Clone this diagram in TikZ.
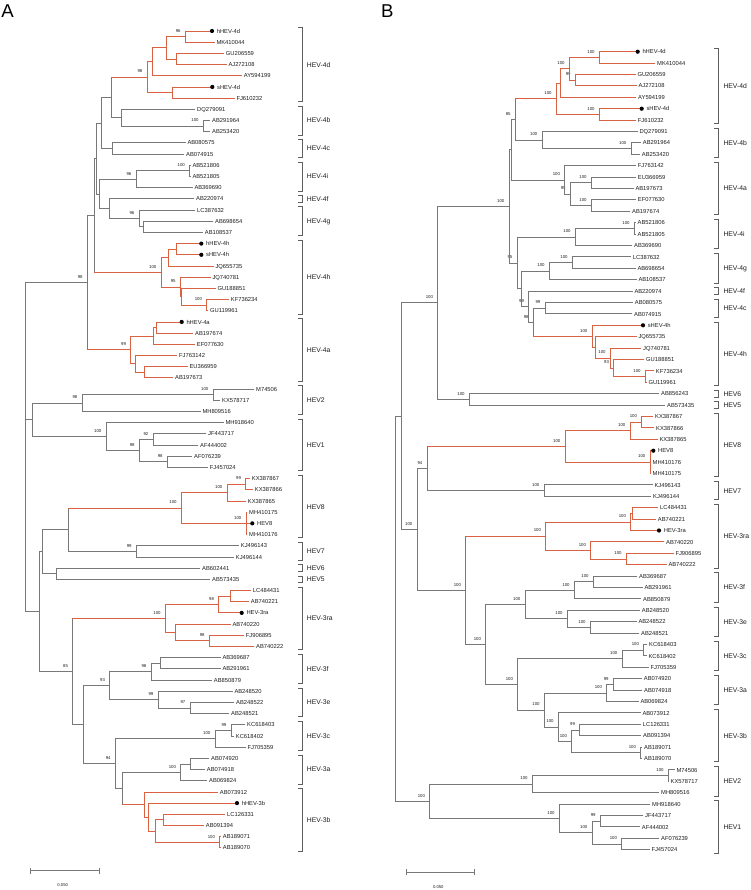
\documentclass[tikz,border=0pt]{standalone}
\usepackage{fontspec}
\setmainfont{Liberation Sans}
\definecolor{lgray}{RGB}{120,120,120}
\definecolor{lred}{RGB}{217,98,66}
\definecolor{bgray}{RGB}{95,95,95}
\definecolor{txt}{RGB}{30,30,30}
\newcommand\yA[1]{(31+(#1-1)*11.19)}
\newcommand\yB[1]{(51.7+(#1-1)*11.4)}
\newcommand\leafA[3]{\coordinate (al#1) at (#2,{\yA{#1}}); \node[leaf] (al#1t) at (al#1) {#3};}
\newcommand\dleafA[3]{\coordinate (al#1) at (#2,{\yA{#1}}); \node[dleaf] (al#1t) at (al#1) {#3};}
\newcommand\leafB[3]{\coordinate (bl#1) at (#2,{\yB{#1}}); \node[leaf] (bl#1t) at (bl#1) {#3};}
\newcommand\dleafB[3]{\coordinate (bl#1) at (#2,{\yB{#1}}); \node[dleaf] (bl#1t) at (bl#1) {#3};}
\newcommand\nA[3]{\coordinate (#1) at (#2,{\yA{#3}});}
\newcommand\nB[3]{\coordinate (#1) at (#2,{\yB{#3}});}
\newcommand\bsv[2]{\node[bsl] (#1b) at (#1) {#2};}
\newcommand\brn[4]{\draw[#3] (#1) -- (#1 |- #2); \draw[#4] (#1 |- #2) -- (#2);}
\newcommand\eG[2]{\brn{#1}{#2}{gl}{gl}}
\newcommand\eR[2]{\brn{#1}{#2}{rl}{rl}}
\newcommand\eX[2]{\brn{#1}{#2}{gl}{rl}}
\newcommand\dotat[1]{\fill[black] (#1) circle[radius=2.1];}
\newcommand\cladeA[4]{%
\coordinate (#1u) at (302.3,{\yA{#2}-3.3});
\coordinate (#1d) at (302.3,{\yA{#3}+3.3});
\draw[brk] ([xshift=-4.6pt]#1u) -- (#1u) -- (#1d) -- ([xshift=-4.6pt]#1d);
\node[clab] (#1l) at (306.7,{0.5*\yA{#2}+0.5*\yA{#3}}) {#4};}
\newcommand\cladeB[4]{%
\coordinate (#1u) at (718.3,{\yB{#2}-3.3});
\coordinate (#1d) at (718.3,{\yB{#3}+3.3});
\draw[brk] ([xshift=-4.6pt]#1u) -- (#1u) -- (#1d) -- ([xshift=-4.6pt]#1d);
\node[clab] (#1l) at (723.3,{0.5*\yB{#2}+0.5*\yB{#3}}) {#4};}
\tikzset{
 gl/.style={draw=lgray, line width=0.85pt, line cap=rect},
 rl/.style={draw=lred, line width=0.85pt, line cap=rect},
 leaf/.style={anchor=west, inner sep=0pt, xshift=2pt, font=\fontsize{5.8}{6}\selectfont, text=txt, text height=4.2pt, text depth=0pt},
 dleaf/.style={leaf, xshift=2.6pt},
 bsl/.style={anchor=south east, inner sep=0pt, xshift=-4.5pt, yshift=4pt, font=\fontsize{4.3}{5}\selectfont, text=txt},
 brk/.style={draw=bgray, line width=0.8pt},
 clab/.style={anchor=west, inner sep=0pt, font=\fontsize{6.8}{8}\selectfont, text=txt, text height=4.9pt, text depth=0pt},
 plab/.style={anchor=base west, inner sep=0pt, font=\fontsize{18.6}{20}\selectfont, text=black},
 sclab/.style={inner sep=0pt, font=\fontsize{4.2}{5}\selectfont, text=txt}
}
\begin{document}
\begin{tikzpicture}[x=1pt,y=-1pt]
\useasboundingbox (0,0) rectangle (750,890);
\fill[white] (0,0) rectangle (750,890);
% ================= PANEL A =================
\node[plab] (pA) at (1.2,17.3) {A};
\dleafA{1}{212}{hHEV-4d}
\leafA{2}{214.3}{MK410044}
\leafA{3}{223.7}{GU206559}
\leafA{4}{226.3}{AJ272108}
\leafA{5}{241.7}{AY594199}
\dleafA{6}{212.3}{sHEV-4d}
\leafA{7}{234.3}{FJ610232}
\leafA{8}{195}{DQ279091}
\leafA{9}{210}{AB291964}
\leafA{10}{210}{AB253420}
\leafA{11}{185.3}{AB080575}
\leafA{12}{184}{AB074915}
\leafA{13}{190.3}{AB521806}
\leafA{14}{190.3}{AB521805}
\leafA{15}{192.3}{AB369690}
\leafA{16}{194}{AB220974}
\leafA{17}{195}{LC387632}
\leafA{18}{213}{AB698654}
\leafA{19}{202.7}{AB108537}
\dleafA{20}{201.3}{hHEV-4h}
\dleafA{21}{201.3}{sHEV-4h}
\leafA{22}{213.3}{JQ655735}
\leafA{23}{210.3}{JQ740781}
\leafA{24}{215.3}{GU188851}
\leafA{25}{228.7}{KF736234}
\leafA{26}{208}{GU119961}
\dleafA{27}{181.7}{hHEV-4a}
\leafA{28}{193}{AB197674}
\leafA{29}{194.7}{EF077630}
\leafA{30}{177}{FJ763142}
\leafA{31}{187.3}{EU366959}
\leafA{32}{173}{AB197673}
\leafA{33}{254}{M74506}
\leafA{34}{220}{KX578717}
\leafA{35}{200.3}{MH809516}
\leafA{36}{223.3}{MH918640}
\leafA{37}{206}{JF443717}
\leafA{38}{198}{AF444002}
\leafA{39}{192}{AF076239}
\leafA{40}{207.7}{FJ457024}
\leafA{41}{249.7}{KX387867}
\leafA{42}{252.7}{KX387866}
\leafA{43}{245.7}{KX387865}
\leafA{44}{247}{MH410175}
\dleafA{45}{252.3}{HEV8}
\leafA{46}{247}{MH410176}
\leafA{47}{238.7}{KJ496143}
\leafA{48}{233.7}{KJ496144}
\leafA{49}{200}{AB602441}
\leafA{50}{210}{AB573435}
\leafA{51}{250.7}{LC484431}
\leafA{52}{248.7}{AB740221}
\dleafA{53}{241.7}{HEV-3ra}
\leafA{54}{230.3}{AB740220}
\leafA{55}{243.7}{FJ906895}
\leafA{56}{254}{AB740222}
\leafA{57}{220.3}{AB369687}
\leafA{58}{220.3}{AB291961}
\leafA{59}{211.7}{AB850879}
\leafA{60}{232.3}{AB248520}
\leafA{61}{234}{AB248522}
\leafA{62}{229}{AB248521}
\leafA{63}{245}{KC618403}
\leafA{64}{233.7}{KC618402}
\leafA{65}{245.3}{FJ705359}
\leafA{66}{209}{AB074920}
\leafA{67}{204.7}{AB074918}
\leafA{68}{207}{AB069824}
\leafA{69}{217.7}{AB073912}
\dleafA{70}{237}{hHEV-3b}
\leafA{71}{225}{LC126331}
\leafA{72}{203.7}{AB091394}
\leafA{73}{220.7}{AB189071}
\leafA{74}{220.7}{AB189070}
% internal nodes A
\nA{a1}{185.3}{1.5}\bsv{a1}{96}
\nA{a2}{176.7}{3.5}
\nA{a3}{166}{2.5}
\nA{a4}{152.7}{3.75}
\nA{a5}{172.3}{6.5}
\nA{a6}{147}{5.125}\bsv{a6}{98}
\nA{b1}{203.3}{9.5}\bsv{b1}{100}
\nA{b2}{121.3}{8.75}
\nA{a7}{111}{6.9375}
\nA{c1}{112.7}{11.5}
\nA{a8}{101.5}{9.21875}
\nA{i1}{189.5}{13.5}\bsv{i1}{100}
\nA{i2}{136}{14.25}\bsv{i2}{96}
\nA{g1}{143.3}{18.5}
\nA{g2}{139}{17.75}\bsv{g2}{96}
\nA{g3}{109.3}{16.875}
\nA{ig}{99.3}{15.5625}
\nA{a9}{96.7}{12.390625}
\nA{h1}{176.7}{20.5}
\nA{h2}{168}{21.25}
\nA{h3}{206.7}{25.5}\bsv{h3}{100}
\nA{hx}{181.3}{24.75}
\nA{h4}{180.3}{23.875}\bsv{h4}{95}
\nA{h5}{161}{22.5625}\bsv{h5}{100}
\nA{a10}{94.3}{17.4765625}
\nA{q1}{156.7}{27.5}
\nA{q2}{153.3}{28.25}
\nA{q3}{144.3}{31.5}
\nA{q4}{135.3}{30.75}
\nA{q5}{130.7}{29.5}\bsv{q5}{99}
\nA{a11}{87.3}{23.48828125}\bsv{a11}{98}
\nA{e1}{213}{33.5}\bsv{e1}{100}
\nA{e2}{82}{34.25}\bsv{e2}{98}
\nA{f1}{153}{37.5}\bsv{f1}{92}
\nA{f2}{167.3}{39.5}\bsv{f2}{98}
\nA{f3}{139.3}{38.5}\bsv{f3}{98}
\nA{f4}{106}{37.25}\bsv{f4}{100}
\nA{ef}{32.3}{35.75}
\nA{k1}{245.7}{41.5}\bsv{k1}{99}
\nA{k2}{227}{42.25}\bsv{k2}{100}
\nA{k3}{246}{45}\bsv{k3}{100}
\nA{k4}{181.3}{43.625}\bsv{k4}{100}
\nA{k5}{136.3}{47.5}\bsv{k5}{99}
\nA{k6}{68.3}{45.5625}
\nA{k7}{56}{49.5}
\nA{k8}{42.3}{47.53125}
\nA{r1}{230}{51.5}
\nA{r2}{218.7}{52.25}\bsv{r2}{98}
\nA{r3}{209.3}{55.5}\bsv{r3}{98}
\nA{r4}{175.3}{54.75}
\nA{r5}{165.3}{53.5}\bsv{r5}{100}
\nA{s1}{160.7}{57.5}
\nA{s2}{151}{58.25}\bsv{s2}{98}
\nA{t1}{190}{61.5}\bsv{t1}{97}
\nA{t2}{158}{60.75}\bsv{t2}{99}
\nA{st}{109.7}{59.5}\bsv{st}{93}
\nA{u1}{231}{63.5}\bsv{u1}{99}
\nA{u2}{215}{64.25}\bsv{u2}{100}
\nA{v1}{190}{66.5}
\nA{v2}{180.7}{67.25}\bsv{v2}{100}
\nA{w1}{163.7}{71.5}
\nA{w2}{219.7}{73.5}\bsv{w2}{100}
\nA{w3}{155.7}{72.5}
\nA{w4}{148.3}{71.25}
\nA{w5}{144.3}{70.125}
\nA{vw}{122.3}{68.6875}
\nA{uvw}{115.3}{66.46875}\bsv{uvw}{94}
\nA{stuvw}{83.3}{62.984375}
\nA{z1}{72.7}{58.2421875}\bsv{z1}{85}
\nA{z2}{39.7}{52.88671875}
\nA{rootA}{25.5}{23.48828125}
% edges A
\eR{a1}{al1}\eR{a1}{al2}\eR{a2}{al3}\eR{a2}{al4}
\eR{a3}{a1}\eR{a3}{a2}\eR{a4}{a3}\eR{a4}{al5}
\eR{a5}{al6}\eR{a5}{al7}\eR{a6}{a4}\eR{a6}{a5}
\eX{a7}{a6}
\eG{b1}{al9}\eG{b1}{al10}\eG{b2}{al8}\eG{b2}{b1}\eG{a7}{b2}
\eG{c1}{al11}\eG{c1}{al12}\eG{a8}{a7}\eG{a8}{c1}
\eG{i1}{al13}\eG{i1}{al14}\eG{i2}{i1}\eG{i2}{al15}
\eG{g1}{al18}\eG{g1}{al19}\eG{g2}{al17}\eG{g2}{g1}
\eG{g3}{al16}\eG{g3}{g2}\eG{ig}{i2}\eG{ig}{g3}
\eG{a9}{a8}\eG{a9}{ig}
\eR{h1}{al20}\eR{h1}{al21}\eR{h2}{h1}\eR{h2}{al22}
\eR{h3}{al25}\eR{h3}{al26}\eR{hx}{al24}\eR{hx}{h3}
\eR{h4}{al23}\eR{h4}{hx}\eR{h5}{h2}\eR{h5}{h4}
\eG{a10}{a9}\eX{a10}{h5}
\eR{q1}{al27}\eR{q1}{al28}\eR{q2}{q1}\eR{q2}{al29}
\eR{q3}{al31}\eR{q3}{al32}\eR{q4}{al30}\eR{q4}{q3}
\eR{q5}{q2}\eR{q5}{q4}
\eG{a11}{a10}\eX{a11}{q5}
\eG{e1}{al33}\eG{e1}{al34}\eG{e2}{e1}\eG{e2}{al35}
\eG{f1}{al37}\eG{f1}{al38}\eG{f2}{al39}\eG{f2}{al40}
\eG{f3}{f1}\eG{f3}{f2}\eG{f4}{al36}\eG{f4}{f3}
\eG{ef}{e2}\eG{ef}{f4}
\eR{k1}{al41}\eR{k1}{al42}\eR{k2}{k1}\eR{k2}{al43}
\eR{k3}{al44}\eR{k3}{al45}\eR{k3}{al46}\eR{k4}{k2}\eR{k4}{k3}
\eG{k5}{al47}\eG{k5}{al48}\eX{k6}{k4}\eG{k6}{k5}
\eG{k7}{al49}\eG{k7}{al50}\eG{k8}{k6}\eG{k8}{k7}
\eR{r1}{al51}\eR{r1}{al52}\eR{r2}{r1}\eR{r2}{al53}
\eR{r3}{al55}\eR{r3}{al56}\eR{r4}{al54}\eR{r4}{r3}
\eR{r5}{r2}\eR{r5}{r4}
\eG{s1}{al57}\eG{s1}{al58}\eG{s2}{s1}\eG{s2}{al59}
\eG{t1}{al61}\eG{t1}{al62}\eG{t2}{al60}\eG{t2}{t1}
\eG{st}{s2}\eG{st}{t2}
\eG{u1}{al63}\eG{u1}{al64}\eG{u2}{u1}\eG{u2}{al65}
\eG{v1}{al66}\eG{v1}{al67}\eG{v2}{v1}\eG{v2}{al68}
\eR{w1}{al71}\eR{w1}{al72}\eR{w2}{al73}\eR{w2}{al74}
\eR{w3}{w1}\eR{w3}{w2}\eR{w4}{al70}\eR{w4}{w3}
\eR{w5}{al69}\eR{w5}{w4}
\eG{vw}{v2}\eX{vw}{w5}\eG{uvw}{u2}\eG{uvw}{vw}
\eG{stuvw}{st}\eG{stuvw}{uvw}
\eX{z1}{r5}\eG{z1}{stuvw}
\eG{z2}{k8}\eG{z2}{z1}
\eG{rootA}{a11}\eG{rootA}{ef}\eG{rootA}{z2}
\dotat{al1}\dotat{al6}\dotat{al20}\dotat{al21}\dotat{al27}\dotat{al45}\dotat{al53}\dotat{al70}
% clades A
\cladeA{cA1}{1}{7}{HEV-4d}
\cladeA{cA2}{8}{10}{HEV-4b}
\cladeA{cA3}{11}{12}{HEV-4c}
\cladeA{cA4}{13}{15}{HEV-4i}
\cladeA{cA5}{16}{16}{HEV-4f}
\cladeA{cA6}{17}{19}{HEV-4g}
\cladeA{cA7}{20}{26}{HEV-4h}
\cladeA{cA8}{27}{32}{HEV-4a}
\cladeA{cA9}{33}{35}{HEV2}
\cladeA{cA10}{36}{40}{HEV1}
\cladeA{cA11}{41}{46}{HEV8}
\cladeA{cA12}{47}{48}{HEV7}
\cladeA{cA13}{49}{49}{HEV6}
\cladeA{cA14}{50}{50}{HEV5}
\cladeA{cA15}{51}{56}{HEV-3ra}
\cladeA{cA16}{57}{59}{HEV-3f}
\cladeA{cA17}{60}{62}{HEV-3e}
\cladeA{cA18}{63}{65}{HEV-3c}
\cladeA{cA19}{66}{68}{HEV-3a}
\cladeA{cA20}{69}{74}{HEV-3b}
% scale A
\coordinate (sa1) at (30,870.7); \coordinate (sa2) at (99.3,870.7);
\draw[gl] (sa1) -- (sa2);
\draw[gl] ([yshift=2.4pt]sa1) -- ([yshift=-2.4pt]sa1);
\draw[gl] ([yshift=2.4pt]sa2) -- ([yshift=-2.4pt]sa2);
\node[sclab] (saL) at (62.7,885) {0.050};
% ================= PANEL B =================
\node[plab] (pB) at (380.8,17.3) {B};
\dleafB{1}{637.7}{hHEV-4d}
\leafB{2}{655}{MK410044}
\leafB{3}{635.3}{GU206559}
\leafB{4}{636.3}{AJ272108}
\leafB{5}{636}{AY594199}
\dleafB{6}{641.7}{sHEV-4d}
\leafB{7}{635.7}{FJ610232}
\leafB{8}{637.3}{DQ279091}
\leafB{9}{640.7}{AB291964}
\leafB{10}{639.7}{AB253420}
\leafB{11}{635.7}{FJ763142}
\leafB{12}{635.7}{EU366959}
\leafB{13}{633.3}{AB197673}
\leafB{14}{635.7}{EF077630}
\leafB{15}{630}{AB197674}
\leafB{16}{635.5}{AB521806}
\leafB{17}{635.5}{AB521805}
\leafB{18}{632}{AB369690}
\leafB{19}{630.7}{LC387632}
\leafB{20}{635.3}{AB698654}
\leafB{21}{636.3}{AB108537}
\leafB{22}{632.3}{AB220974}
\leafB{23}{632.7}{AB080575}
\leafB{24}{632}{AB074915}
\dleafB{25}{643}{sHEV-4h}
\leafB{26}{636.3}{JQ655735}
\leafB{27}{641}{JQ740781}
\leafB{28}{644}{GU188851}
\leafB{29}{653.7}{KF736234}
\leafB{30}{646.3}{GU119961}
\leafB{31}{659}{AB856243}
\leafB{32}{665}{AB573435}
\leafB{33}{653}{KX387867}
\leafB{34}{654}{KX387866}
\leafB{35}{657.3}{KX387865}
\dleafB{36}{653.3}{HEV8}
\leafB{37}{650.5}{MH410176}
\leafB{38}{650.5}{MH410175}
\leafB{39}{652.3}{KJ496143}
\leafB{40}{651}{KJ496144}
\leafB{41}{658}{LC484431}
\leafB{42}{655.7}{AB740221}
\dleafB{43}{659}{HEV-3ra}
\leafB{44}{664}{AB740220}
\leafB{45}{673.3}{FJ906895}
\leafB{46}{666.3}{AB740222}
\leafB{47}{637}{AB369687}
\leafB{48}{642.3}{AB291961}
\leafB{49}{641}{AB850879}
\leafB{50}{639.7}{AB248520}
\leafB{51}{636.3}{AB248522}
\leafB{52}{639}{AB248521}
\leafB{53}{647}{KC618403}
\leafB{54}{646.3}{KC618402}
\leafB{55}{648.3}{FJ705359}
\leafB{56}{641.7}{AB074920}
\leafB{57}{642}{AB074918}
\leafB{58}{638.3}{AB069824}
\leafB{59}{640.3}{AB073912}
\leafB{60}{640.7}{LC126331}
\leafB{61}{641}{AB091394}
\leafB{62}{642}{AB189071}
\leafB{63}{642}{AB189070}
\leafB{64}{674.3}{M74506}
\leafB{65}{668.5}{KX578717}
\leafB{66}{659}{MH809516}
\leafB{67}{650}{MH918640}
\leafB{68}{643}{JF443717}
\leafB{69}{639.7}{AF444002}
\leafB{70}{659}{AF076239}
\leafB{71}{649.3}{FJ457024}
% internal nodes B
\nB{B1}{599.3}{1.5}\bsv{B1}{100}
\nB{B2}{575.3}{3.5}\bsv{B2}{99}
\nB{B3}{569.3}{2.5}\bsv{B3}{100}
\nB{B4}{560.3}{3.75}
\nB{B5}{599.3}{6.5}\bsv{B5}{100}
\nB{B6}{556.3}{5.125}\bsv{B6}{100}
\nB{B7}{631}{9.5}\bsv{B7}{100}
\nB{B8}{542}{8.75}\bsv{B8}{100}
\nB{B9}{515.3}{6.9375}\bsv{B9}{85}
\nB{B10}{591.3}{12.5}\bsv{B10}{100}
\nB{B11}{591.3}{14.5}\bsv{B11}{100}
\nB{B12}{570.3}{13.5}\bsv{B12}{95}
\nB{B13}{564.7}{12.25}\bsv{B13}{100}
\nB{B14}{511}{9.59375}
\nB{B15}{634.3}{16.5}\bsv{B15}{100}
\nB{B16}{575.3}{17.25}\bsv{B16}{100}
\nB{B17}{572.3}{19.5}\bsv{B17}{100}
\nB{B18}{549.3}{20.25}\bsv{B18}{100}
\nB{B20}{545}{23.5}\bsv{B20}{99}
\nB{B21}{645.3}{29.5}\bsv{B21}{100}
\nB{B22}{613.7}{28.75}\bsv{B22}{93}
\nB{B23}{610.3}{27.875}\bsv{B23}{100}
\nB{B24}{595}{26.9375}
\nB{B25}{592}{25.96875}\bsv{B25}{100}
\nB{B26}{533.3}{24.734375}\bsv{B26}{98}
\nB{B27}{528.7}{23.3671875}\bsv{B27}{99}
\nB{X}{521.7}{21.80859375}
\nB{W}{517}{19.529296875}\bsv{W}{95}
\nB{V}{509}{14.5615234375}\bsv{V}{100}
\nB{Q}{469.3}{31.5}\bsv{Q}{100}
\nB{U}{437.7}{23.03076171875}\bsv{U}{100}
\nB{C1}{641.7}{33.5}\bsv{C1}{100}
\nB{C2}{630}{34.25}\bsv{C2}{100}
\nB{C3}{650}{37}\bsv{C3}{100}
\nB{C4}{565}{35.625}\bsv{C4}{100}
\nB{C5}{544}{39.5}\bsv{C5}{100}
\nB{C6}{427}{37.5625}\bsv{C6}{94}
\nB{D0}{632}{41.5}
\nB{D1}{630.7}{42.25}\bsv{D1}{100}
\nB{D2}{626.3}{45.5}\bsv{D2}{100}
\nB{D3}{590.7}{44.75}\bsv{D3}{100}
\nB{D4}{545.7}{43.5}\bsv{D4}{100}
\nB{E1}{593.3}{47.5}\bsv{E1}{100}
\nB{E2}{574.3}{48.25}\bsv{E2}{100}
\nB{E3}{590.3}{51.5}\bsv{E3}{100}
\nB{E4}{567.3}{50.75}\bsv{E4}{100}
\nB{E5}{525}{49.5}\bsv{E5}{100}
\nB{F1}{643.7}{53.5}\bsv{F1}{100}
\nB{F2}{622}{54.25}\bsv{F2}{100}
\nB{G1}{613.3}{56.5}\bsv{G1}{99}
\nB{G2}{606.7}{57.25}\bsv{G2}{100}
\nB{H1}{579.7}{60.5}\bsv{H1}{99}
\nB{H2}{640.7}{62.5}\bsv{H2}{100}
\nB{H3}{571.7}{61.5}\bsv{H3}{100}
\nB{H4}{558.3}{60.25}\bsv{H4}{100}
\nB{GH}{544.3}{58.75}\bsv{GH}{100}
\nB{FGH}{517.7}{56.5}\bsv{FGH}{100}
\nB{EFGH}{485.7}{53}\bsv{EFGH}{100}
\nB{DE}{465.7}{48.25}\bsv{DE}{100}
\nB{CD}{417}{42.90625}\bsv{CD}{100}
\nB{UC}{401.7}{32.96850585}
\nB{I1}{668.3}{64.5}\bsv{I1}{100}
\nB{I2}{532.3}{65.25}\bsv{I2}{100}
\nB{J1}{600.3}{68.5}\bsv{J1}{99}
\nB{J2}{621.7}{70.5}\bsv{J2}{100}
\nB{J3}{592}{69.5}\bsv{J3}{100}
\nB{J4}{559.3}{68.25}\bsv{J4}{100}
\nB{IJ}{429.7}{66.75}\bsv{IJ}{100}
\nB{rootB}{395.7}{49.859}
% edges B
\eR{B1}{bl1}\eR{B1}{bl2}\eR{B2}{bl3}\eR{B2}{bl4}
\eR{B3}{B1}\eR{B3}{B2}\eR{B4}{B3}\eR{B4}{bl5}
\eR{B5}{bl6}\eR{B5}{bl7}\eR{B6}{B4}\eR{B6}{B5}
\eG{B7}{bl9}\eG{B7}{bl10}\eG{B8}{bl8}\eG{B8}{B7}
\eX{B9}{B6}\eG{B9}{B8}
\eG{B10}{bl12}\eG{B10}{bl13}\eG{B11}{bl14}\eG{B11}{bl15}
\eG{B12}{B10}\eG{B12}{B11}\eG{B13}{bl11}\eG{B13}{B12}
\eG{B14}{B9}\eG{B14}{B13}
\eG{B15}{bl16}\eG{B15}{bl17}\eG{B16}{B15}\eG{B16}{bl18}
\eG{B17}{bl19}\eG{B17}{bl20}\eG{B18}{B17}\eG{B18}{bl21}
\eG{B20}{bl23}\eG{B20}{bl24}
\eR{B21}{bl29}\eR{B21}{bl30}\eR{B22}{bl28}\eR{B22}{B21}
\eR{B23}{bl27}\eR{B23}{B22}\eR{B24}{bl26}\eR{B24}{B23}
\eR{B25}{bl25}\eR{B25}{B24}
\eG{B26}{B20}\eX{B26}{B25}\eG{B27}{bl22}\eG{B27}{B26}
\eG{X}{B18}\eG{X}{B27}\eG{W}{B16}\eG{W}{X}
\eG{V}{B14}\eG{V}{W}
\eG{Q}{bl31}\eG{Q}{bl32}\eG{U}{V}\eG{U}{Q}
\eR{C1}{bl33}\eR{C1}{bl34}\eR{C2}{C1}\eR{C2}{bl35}
\eR{C3}{bl36}\eR{C3}{bl37}\eR{C3}{bl38}\eR{C4}{C2}\eR{C4}{C3}
\eG{C5}{bl39}\eG{C5}{bl40}\eX{C6}{C4}\eG{C6}{C5}
\eR{D0}{bl41}\eR{D0}{bl42}\eR{D1}{D0}\eR{D1}{bl43}
\eR{D2}{bl45}\eR{D2}{bl46}\eR{D3}{bl44}\eR{D3}{D2}
\eR{D4}{D1}\eR{D4}{D3}
\eG{E1}{bl47}\eG{E1}{bl48}\eG{E2}{E1}\eG{E2}{bl49}
\eG{E3}{bl51}\eG{E3}{bl52}\eG{E4}{bl50}\eG{E4}{E3}
\eG{E5}{E2}\eG{E5}{E4}
\eG{F1}{bl53}\eG{F1}{bl54}\eG{F2}{F1}\eG{F2}{bl55}
\eG{G1}{bl56}\eG{G1}{bl57}\eG{G2}{G1}\eG{G2}{bl58}
\eG{H1}{bl60}\eG{H1}{bl61}\eG{H2}{bl62}\eG{H2}{bl63}
\eG{H3}{H1}\eG{H3}{H2}\eG{H4}{bl59}\eG{H4}{H3}
\eG{GH}{G2}\eG{GH}{H4}\eG{FGH}{F2}\eG{FGH}{GH}
\eG{EFGH}{E5}\eG{EFGH}{FGH}
\eX{DE}{D4}\eG{DE}{EFGH}
\eG{CD}{C6}\eG{CD}{DE}
\eG{UC}{U}\eG{UC}{CD}
\eG{I1}{bl64}\eG{I1}{bl65}\eG{I2}{I1}\eG{I2}{bl66}
\eG{J1}{bl68}\eG{J1}{bl69}\eG{J2}{bl70}\eG{J2}{bl71}
\eG{J3}{J1}\eG{J3}{J2}\eG{J4}{bl67}\eG{J4}{J3}
\eG{IJ}{I2}\eG{IJ}{J4}
\eG{rootB}{UC}\eG{rootB}{IJ}
\dotat{bl1}\dotat{bl6}\dotat{bl25}\dotat{bl36}\dotat{bl43}
% clades B
\cladeB{cB1}{1}{7}{HEV-4d}
\cladeB{cB2}{8}{10}{HEV-4b}
\cladeB{cB3}{11}{15}{HEV-4a}
\cladeB{cB4}{16}{18}{HEV-4i}
\cladeB{cB5}{19}{21}{HEV-4g}
\cladeB{cB6}{22}{22}{HEV-4f}
\cladeB{cB7}{23}{24}{HEV-4c}
\cladeB{cB8}{25}{30}{HEV-4h}
\cladeB{cB9}{31}{31}{HEV6}
\cladeB{cB10}{32}{32}{HEV5}
\cladeB{cB11}{33}{38}{HEV8}
\cladeB{cB12}{39}{40}{HEV7}
\cladeB{cB13}{41}{46}{HEV-3ra}
\cladeB{cB14}{47}{49}{HEV-3f}
\cladeB{cB15}{50}{52}{HEV-3e}
\cladeB{cB16}{53}{55}{HEV-3c}
\cladeB{cB17}{56}{58}{HEV-3a}
\cladeB{cB18}{59}{63}{HEV-3b}
\cladeB{cB19}{64}{66}{HEV2}
\cladeB{cB20}{67}{71}{HEV1}
% scale B
\coordinate (sb1) at (406,872); \coordinate (sb2) at (474.3,872);
\draw[gl] (sb1) -- (sb2);
\draw[gl] ([yshift=2.4pt]sb1) -- ([yshift=-2.4pt]sb1);
\draw[gl] ([yshift=2.4pt]sb2) -- ([yshift=-2.4pt]sb2);
\node[sclab] (sbL) at (438.3,886.7) {0.050};
\end{tikzpicture}
\end{document}
